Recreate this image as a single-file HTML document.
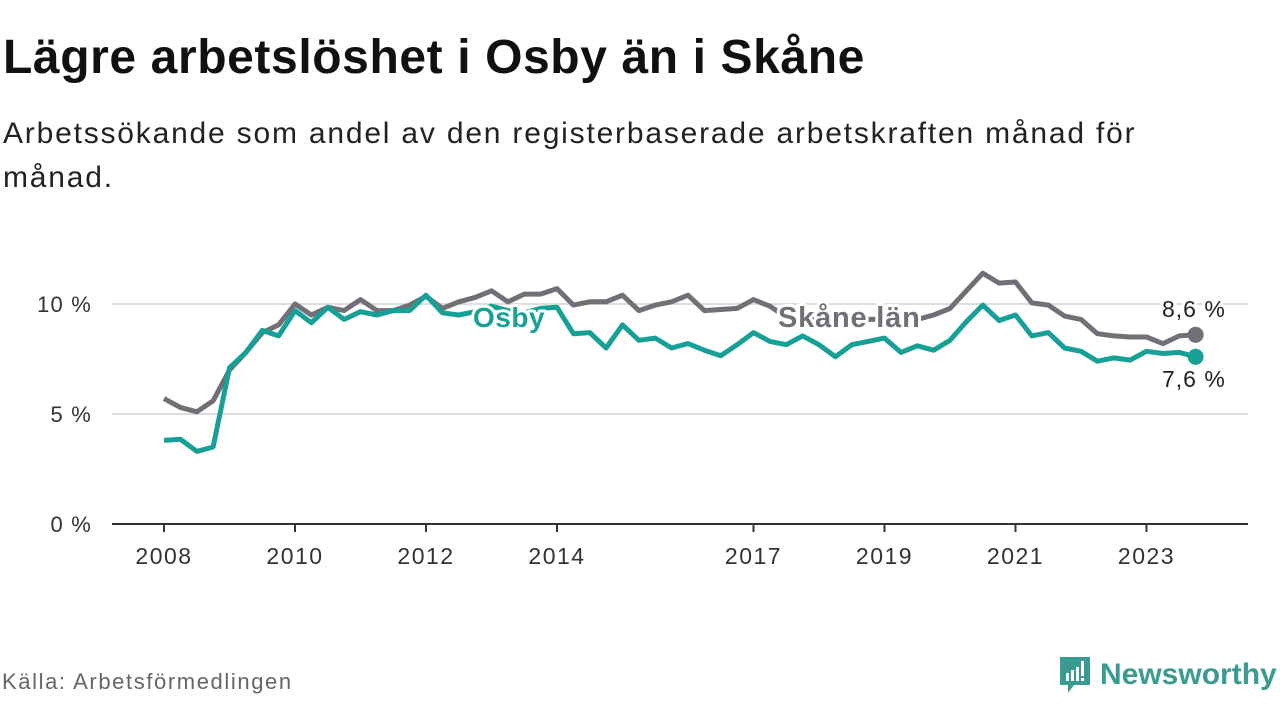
<!DOCTYPE html>
<html><head><meta charset="utf-8"><style>
body{margin:0;width:1280px;height:720px;background:#fff;font-family:"Liberation Sans",sans-serif;overflow:hidden;position:relative}
.t{position:absolute;left:3px;top:30px;font-size:48px;font-weight:bold;color:#111;margin:0;letter-spacing:0.6px}
.s{position:absolute;left:3px;top:112px;font-size:30px;color:#222;line-height:44px;width:1180px;letter-spacing:1.8px}
.src{position:absolute;left:2px;top:669px;font-size:22px;color:#666;letter-spacing:1.6px}
.logo{position:absolute;left:1058px;top:655px;display:flex;align-items:center}
.logo span{font-size:30px;font-weight:bold;color:#3a9b92;margin-left:8px}
</style></head><body>
<h1 class="t">Lägre arbetslöshet i Osby än i Skåne</h1>
<div class="s">Arbetssökande som andel av den registerbaserade arbetskraften månad för månad.</div>
<svg id="c" width="1280" height="720" style="position:absolute;left:0;top:0"></svg>
<div class="src">Källa: Arbetsförmedlingen</div>
<div class="logo">
<svg width="34" height="40" viewBox="0 0 34 40"><path d="M2 2h30v28H16l-6 8v-8H2z" fill="#3a9b92"/><rect x="8" y="18" width="3" height="8" fill="#fff"/><rect x="13" y="15" width="3" height="11" fill="#fff"/><rect x="18" y="12" width="3" height="14" fill="#fff"/><rect x="23" y="6" width="3" height="15" fill="#fff"/><rect x="23" y="23" width="3" height="3" fill="#fff"/></svg>
<span>Newsworthy</span></div>
<script>
const years=[2008,2010,2012,2014,2017,2019,2021,2023];
const yTicks=[0,5,10];
const yTickLabels=["0 %","5 %","10 %"];
const skane=[5.7,5.3,5.1,5.6, 7.0,7.8,8.7,9.05, 10.0,9.5,9.85,9.7, 10.2,9.7,9.7,9.95, 10.35,9.8,10.1,10.3, 10.6,10.1,10.45,10.45, 10.7,9.95,10.1,10.1, 10.4,9.7,9.95,10.1, 10.4,9.7,9.75,9.8, 10.2,9.9,9.4,9.3, 9.3,9.2,9.2,9.3, 9.3,9.2,9.3,9.5, 9.8,10.6,11.4,10.95, 11.0,10.05,9.95,9.45, 9.3,8.65,8.55,8.5, 8.5,8.2,8.55,8.6];
const osby=[3.8,3.85,3.3,3.5, 7.1,7.8,8.8,8.55, 9.7,9.15,9.85,9.3, 9.65,9.5,9.7,9.7, 10.4,9.6,9.5,9.65, 9.9,9.7,9.6,9.8, 9.85,8.65,8.7,8.0, 9.05,8.35,8.45,8.0, 8.2,7.9,7.65,8.15, 8.7,8.3,8.15,8.55, 8.15,7.6,8.15,8.3, 8.45,7.8,8.1,7.9, 8.35,9.2,9.95,9.25, 9.5,8.55,8.7,8.0, 7.85,7.4,7.55,7.45, 7.85,7.75,7.8,7.6];
const startYear=2008, step=0.25;
const X=t=>164+(t-2008)*65.5;
const Y=v=>524-v*22;
const svg=document.getElementById('c');
const NS='http://www.w3.org/2000/svg';
function mk(tag,at,txt){const e=document.createElementNS(NS,tag);for(const k in at)e.setAttribute(k,at[k]);if(txt!==undefined)e.textContent=txt;svg.appendChild(e);return e;}
yTicks.forEach((v,i)=>{
 if(v>0){const g=mk('line',{x1:112,x2:1248,y1:Y(v),y2:Y(v),stroke:'#ddd','stroke-width':2});
 
 }
 const l=mk('text',{x:92,y:Y(v)+8,'text-anchor':'end','font-size':22,'letter-spacing':1.2,fill:'#333'},yTickLabels[i]);
 
 
});
const ax=mk('line',{x1:112,x2:1248,y1:524,y2:524,stroke:'#333','stroke-width':2});


years.forEach(y=>{
 const t=mk('line',{x1:X(y),x2:X(y),y1:524,y2:532,stroke:'#333','stroke-width':2});
 
 
 const l=mk('text',{x:X(y),y:564,'text-anchor':'middle','font-size':23,'letter-spacing':1.5,fill:'#333'},y);
 
 
});
function line(arr,col,name){
 const d=arr.map((v,i)=>(i?'L':'M')+X(startYear+i*step).toFixed(1)+' '+Y(v).toFixed(1)).join(' ');
 const p=mk('path',{d:d,fill:'none',stroke:col,'stroke-width':5,'stroke-linejoin':'round'});
 
 
 const n=arr.length-1;
 const c=mk('circle',{cx:X(startYear+n*step),cy:Y(arr[n]),r:8,fill:col});
 
 
}
line(skane,'#717076','skane-line');
line(osby,'#17a096','osby-line');
function lab(x,y,txt,col,name,size,weight,ls){
 const h=mk('text',{x:x,y:y,'font-size':size,'font-weight':weight,'letter-spacing':ls,fill:'#fff',stroke:'#fff','stroke-width':6,'stroke-linejoin':'round'},txt);
 
 
 const t=mk('text',{x:x,y:y,'font-size':size,'font-weight':weight,'letter-spacing':ls,fill:col},txt);
 
 
}
lab(473,327,'Osby','#17a096','osby-label',28,'bold',0.5);
lab(778,327,'Skåne län','#717076','skane-label',29,'bold',0.8);
const n=skane.length-1;
lab(1162,Y(skane[n])-18,String(skane[n]).replace('.',',')+' %','#222','skane-value',23,'normal',1);
lab(1162,Y(osby[n])+30,String(osby[n]).replace('.',',')+' %','#222','osby-value',23,'normal',1);
</script>
</body></html>
